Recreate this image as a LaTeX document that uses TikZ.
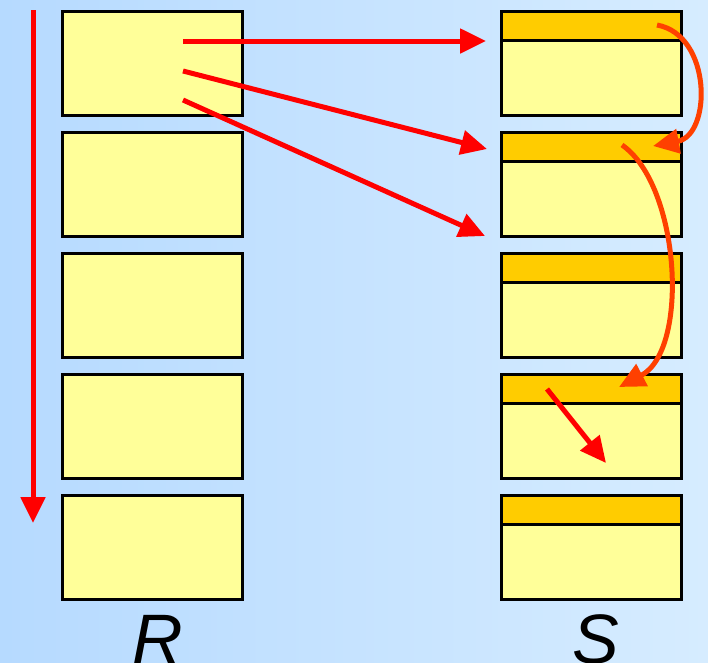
\documentclass[tikz,border=0pt]{standalone}
\usepackage{fontspec}
\setmainfont{Liberation Sans}
\usetikzlibrary{arrows.meta}
\definecolor{bgl}{RGB}{182,218,255}
\definecolor{bgr}{RGB}{214,236,255}
\definecolor{boxy}{RGB}{255,255,153}
\definecolor{hdr}{RGB}{255,204,0}
\definecolor{cur}{RGB}{255,64,0}
\begin{document}
\begin{tikzpicture}[x=1pt,y=-1pt,
  rbox/.style={draw=black,line width=3pt,fill=boxy,minimum width=180pt,minimum height=104pt,inner sep=0pt},
  sbox/.style={rbox,path picture={
      \fill[hdr] (path picture bounding box.north west) rectangle ([yshift=-29pt]path picture bounding box.north east);
      \draw[line width=3pt] ([yshift=-29pt]path picture bounding box.north west) -- ([yshift=-29pt]path picture bounding box.north east);}},
  redarr/.style={draw=red,line width=5pt,-{Triangle[length=26pt,width=24pt]}},
  curarr/.style={draw=cur,line width=5pt,-{Triangle[length=26pt,width=24pt]}},
  lbl/.style={font=\fontsize{70}{84}\selectfont\itshape,inner sep=0pt,anchor=base}]
\useasboundingbox (0,0) rectangle (708,662);
\shade[left color=bgl,right color=bgr] (0,0) rectangle (708,662);
% R boxes
\foreach \i/\y in {1/63,2/184,3/305,4/426,5/547}{
  \node[rbox] (r\i) at (152.5,\y) {};
  \node[sbox] (s\i) at (591.5,\y) {};
}
% coordinates
\coordinate (va) at (33,10);
\coordinate (vb) at (33,523);
\coordinate (p1) at (183,41);
\coordinate (p2) at (183,71);
\coordinate (p3) at (183,100);
\coordinate (q1) at (486,41);
\coordinate (q2) at (487,149);
\coordinate (q3) at (485,236);
\coordinate (ca) at (657,25);
\coordinate (cb) at (653,146);
\coordinate (da) at (622,145);
\coordinate (db) at (619,387);
\coordinate (ea) at (547,389);
\coordinate (eb) at (606,463);
% arrows
\draw[redarr] (va) -- (vb);
\draw[redarr] (p1) -- (q1);
\draw[redarr] (p2) -- (q2);
\draw[redarr] (p3) -- (q3);
\draw[curarr] (ca) .. controls (712,35) and (712,135) .. (cb);
\draw[curarr] (da) .. controls (680,185) and (690,350) .. (db);
\draw[redarr] (ea) -- (eb);
% labels
\node[lbl] (lr) at (158,663) {R};
\node[lbl] (ls) at (596,663) {S};
\end{tikzpicture}
\end{document}
